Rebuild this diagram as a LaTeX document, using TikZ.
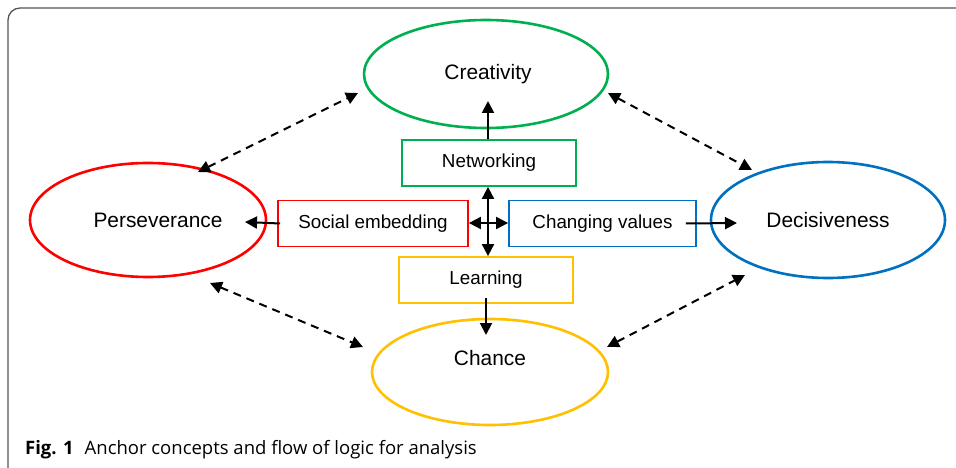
\documentclass[tikz,border=0pt]{standalone}
\usepackage{fontspec}
\setmainfont{Liberation Sans}
\newfontfamily\capfont{Open Sans}
\usetikzlibrary{shapes.geometric,arrows.meta}
\definecolor{cgreen}{HTML}{00B050}
\definecolor{cred}{HTML}{FF0000}
\definecolor{cblue}{HTML}{0070C0}
\definecolor{cyellow}{HTML}{FFC000}
\definecolor{frame}{HTML}{555555}
\begin{document}
\begin{tikzpicture}[x=1pt,y=-1pt,
  ell/.style={ellipse,draw,line width=2.6pt,inner sep=0pt},
  box/.style={draw,line width=1.8pt,minimum height=46pt,inner sep=0pt,font=\fontsize{18.8}{22}\selectfont},
  lab/.style={font=\fontsize{20.9}{24}\selectfont,inner sep=0pt},
  arr/.style={line width=2pt,-{Triangle[length=12pt,width=12pt]}},
  darr/.style={line width=2pt,dash pattern=on 8pt off 6pt,{Triangle[length=12pt,width=12pt]}-{Triangle[length=12pt,width=12pt]}}]
\useasboundingbox (0,0) rectangle (956,468);
\fill[white] (0,0) rectangle (956,468);
% frame
\draw[frame,line width=1.3pt,rounded corners=12pt] (970,8) -- (8,8) -- (8,480) -- (40,480);

% ellipses
\node[ell,draw=cgreen,minimum width=244pt,minimum height=108pt] (cre) at (486,74) {};
\node[ell,draw=cred,minimum width=236pt,minimum height=114pt] (per) at (148,220) {};
\node[ell,draw=cblue,minimum width=234pt,minimum height=116pt] (dec) at (828,220) {};
\node[ell,draw=cyellow,minimum width=236pt,minimum height=106pt] (cha) at (490,372) {};

\node[lab] (tcre) at (488,74) {Creativity};
\node[lab] (tper) at (158,220) {Perseverance};
\node[lab] (tdec) at (828,220) {Decisiveness};
\node[lab] (tcha) at (490,358) {Chance};

% boxes
\node[box,draw=cgreen,minimum width=174pt] (net) at (489,163) {Networking};
\node[box,draw=cred,minimum width=190pt] (soc) at (373,223.5) {Social embedding};
\node[box,draw=cblue,minimum width=187pt] (chg) at (602.5,223.5) {Changing values};
\node[box,draw=cyellow,minimum width=174pt] (lea) at (486,280) {Learning};

% centre cross
\coordinate (c) at (488,223);
\draw[arr] (c) -- (c |- net.south);
\draw[arr] (c) -- (c |- lea.north);
\draw[arr] (c) -- (c -| soc.east);
\draw[arr] (c) -- (c -| chg.west);

% box to ellipse arrows
\coordinate (tipcre) at (488,101);
\coordinate (tipper) at (245,222);
\coordinate (tipdec) at (737,223);
\coordinate (tipcha) at (486,335);
\draw[arr] (net.north -| c) -- (tipcre);
\draw[arr] ([xshift=3pt]soc.west) -- (tipper);
\draw[arr] ([xshift=-11pt]chg.east) -- (tipdec);
\draw[arr] ([yshift=6pt]lea.south) -- (tipcha);

% dashed links
\coordinate (pc1) at (198,172);
\coordinate (pc2) at (358,93);
\coordinate (cd1) at (608,93);
\coordinate (cd2) at (752,170);
\coordinate (ph1) at (210,283);
\coordinate (ph2) at (363,347);
\coordinate (hd1) at (607,347);
\coordinate (hd2) at (745,275);
\draw[darr] (pc1) -- (pc2);
\draw[darr] (cd1) -- (cd2);
\draw[darr] (ph1) -- (ph2);
\draw[darr] (hd1) -- (hd2);

% caption
\node[anchor=base west,inner sep=0pt,font=\capfont\fontsize{18.5}{22}\selectfont] (cap) at (25,454)
  {\textbf{Fig. 1}\hspace{11pt}Anchor concepts and flow of logic for analysis};
\end{tikzpicture}
\end{document}
